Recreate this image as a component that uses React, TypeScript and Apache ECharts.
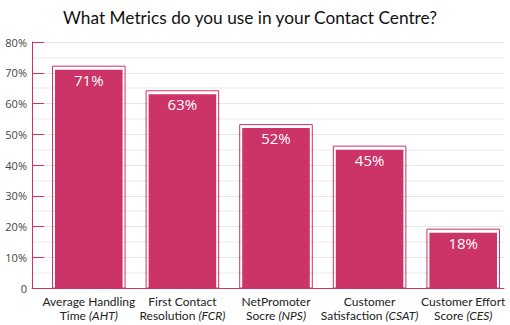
import React, { useEffect, useRef } from "react";
import * as echarts from "echarts";

const titleText = "What Metrics do you use in your Contact Centre?";
const categories = ["AHT", "FCR", "NPS", "CSAT", "CES"];
const firstLines = ["Average Handling", "First Contact", "NetPromoter", "Customer", "Customer Effort"];
const secondLines = ["Time", "Resolution", "Socre", "Satisfaction", "Score"];
const values = [71, 63, 52, 45, 18];
const yMin = 0;
const yMax = 80;
const yInterval = 10;

const PINK = "#CC3366";

export default function App() {
  const ref = useRef<HTMLDivElement>(null);
  useEffect(() => {
    if (!ref.current) return;
    const chart = echarts.init(ref.current, null, { renderer: "svg" });
    const top = 42;
    const bottom = 37;
    chart.setOption({
      animation: false,
      title: {
        text: titleText,
        left: 58,
        top: 4,
        textStyle: { fontFamily: "Lato", fontSize: 17.3, fontWeight: "normal", color: "#111" },
      },
      grid: [
        { left: 32, right: 6, top, bottom },
        { left: 42, right: -1, top, bottom },
      ],
      xAxis: [
        {
          gridIndex: 0,
          type: "value",
          min: 0,
          max: 1,
          axisLine: { show: true, lineStyle: { color: PINK, width: 1 } },
          axisTick: { show: false },
          axisLabel: { show: false },
          splitLine: { show: false },
        },
        {
          gridIndex: 1,
          type: "category",
          data: categories,
          axisLine: { show: false },
          axisTick: { show: false },
          axisLabel: {
            interval: 0,
            margin: 6,
            lineHeight: 14,
            formatter: (_v: string, i: number) =>
              `{n|${firstLines[i]}}\n{n|${secondLines[i]} }{i|(${categories[i]})}`,
            rich: {
              n: { fontFamily: "Lato", fontSize: 12, color: "#222", lineHeight: 14 },
              i: { fontFamily: "Lato", fontSize: 12, fontStyle: "italic", color: "#222", lineHeight: 14 },
            },
          },
        },
      ],
      yAxis: [
        {
          gridIndex: 0,
          type: "value",
          min: yMin,
          max: yMax,
          interval: yInterval,
          axisLine: { show: true, lineStyle: { color: PINK, width: 1 } },
          axisTick: { show: true, inside: true, length: 12, lineStyle: { color: PINK, width: 1 } },
          axisLabel: {
            margin: 5,
            fontFamily: "Open Sans",
            fontSize: 11,
            color: "#444",
            formatter: (v: number) => (v === 0 ? "0" : v + "%"),
          },
          splitLine: { show: true, lineStyle: { color: "#e6e6e6", width: 1 } },
          minorTick: { show: false, splitNumber: 2 },
          minorSplitLine: { show: true, lineStyle: { color: "#f4f4f4", width: 2 } },
        },
        {
          gridIndex: 1,
          type: "value",
          min: yMin,
          max: yMax,
          show: false,
          splitLine: { show: false },
        },
      ],
      series: [
        {
          type: "custom",
          xAxisIndex: 1,
          yAxisIndex: 1,
          data: values.map((v, i) => [i, v]),
          renderItem: (params: any, api: any) => {
            const idx = api.value(0);
            const val = api.value(1);
            const topPt = api.coord([idx, val]);
            const basePt = api.coord([idx, 0]);
            const band = api.size([1, 0])[0];
            const w = band * 0.722;
            const x = topPt[0] - w / 2;
            const y = topPt[1];
            const h = basePt[1] - topPt[1];
            const pad = 3;
            return {
              type: "group",
              children: [
                {
                  type: "rect",
                  shape: { x: x - pad + 0.5, y: y - pad - 0.5, width: w + 2 * pad - 1, height: h + pad + 0.5 },
                  style: { fill: "none", stroke: PINK, lineWidth: 1 },
                },
                {
                  type: "rect",
                  shape: { x, y, width: w, height: h },
                  style: { fill: PINK },
                },
                {
                  type: "text",
                  style: {
                    text: val + "%",
                    x: topPt[0],
                    y: y + 10,
                    align: "center",
                    verticalAlign: "middle",
                    fill: "#fff",
                    fontFamily: "Open Sans",
                    fontSize: 15,
                  },
                },
              ],
            };
          },
        },
      ],
    });
    return () => chart.dispose();
  }, []);
  return <div ref={ref} style={{ width: 510, height: 325, position: "absolute", left: 0, top: 0 }} />;
}
